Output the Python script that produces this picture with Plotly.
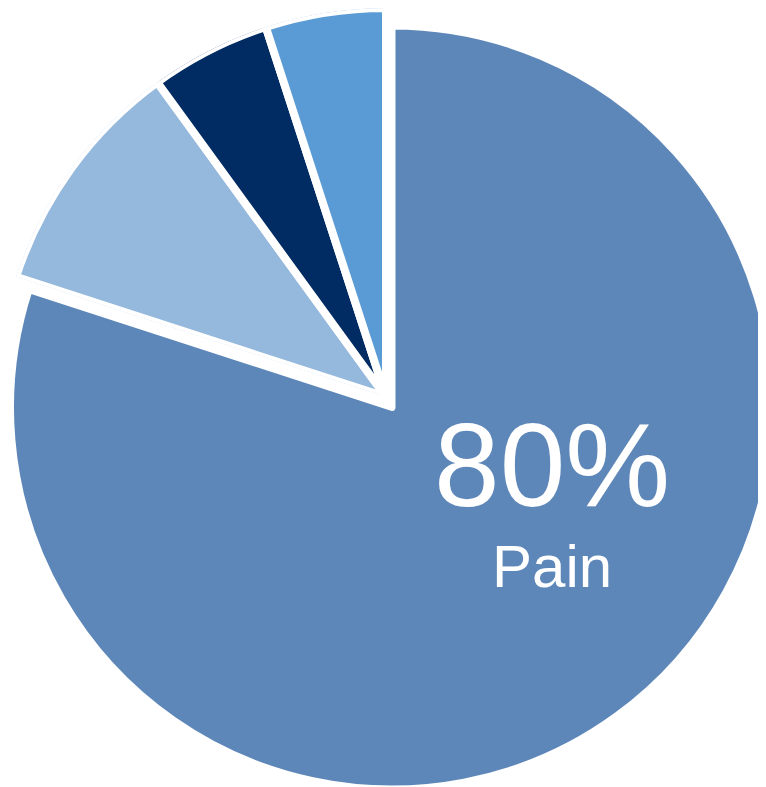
import math
import plotly.graph_objects as go

# ---- data ----
labels = ["Pain", "Other A", "Other B", "Other C"]
values = [80, 10, 5, 5]
colors = ["#5E87B9", "#95B9DC", "#002B63", "#5B9BD5"]

# ---- geometry / style (figure pixels, from top-left) ----
W, H = 766, 787
BIG_C = (384.0, 399.5)     # centre of the big (main) slice
BIG_R = 381.5
SMALL_C = (378.0, 389.0)   # common centre of the small slices
SMALL_R = 389.0
LINE_W = 7
SMALL_LINE_W = 8

total = float(sum(values))
n = len(values)

# --- big slice: a pie whose other slices are transparent ---
fig = go.Figure()
fig.add_trace(go.Pie(
    values=values,
    labels=labels,
    sort=False,
    direction="clockwise",
    rotation=0,
    marker=dict(
        colors=[colors[0]] + ["rgba(0,0,0,0)"] * (n - 1),
        line=dict(color="white", width=[LINE_W] + [0] * (n - 1)),
    ),
    textinfo="none",
    hoverinfo="label+percent",
    showlegend=False,
    domain=dict(
        x=[(BIG_C[0] - BIG_R) / W, (BIG_C[0] + BIG_R) / W],
        y=[1 - (BIG_C[1] + BIG_R) / H, 1 - (BIG_C[1] - BIG_R) / H],
    ),
))

# --- small slices: wedges on a polar sector sharing one centre ---
angles = [v / total * 360.0 for v in values]
starts = [sum(angles[:i]) for i in range(n)]
mids = [starts[i] + angles[i] / 2.0 for i in range(1, n)]
widths = angles[1:]
fig.add_trace(go.Barpolar(
    r=[1.0] * (n - 1),
    theta=mids,
    width=widths,
    text=labels[1:],
    marker=dict(color=colors[1:], line=dict(color="white", width=SMALL_LINE_W)),
    hoverinfo="text",
    showlegend=False,
    subplot="polar",
))

# sector (screen angles, ccw from east) spanned by the small slices
cw0, cw1 = starts[1], 360.0
sec0 = (90.0 - cw1) % 360.0
sec1 = sec0 + (cw1 - cw0)
pts = [(0.0, 0.0)]
for a in [sec0, sec1] + [k * 90.0 for k in range(0, 9) if sec0 < k * 90.0 < sec1]:
    pts.append((math.cos(math.radians(a)), math.sin(math.radians(a))))
xmin = min(p[0] for p in pts); xmax = max(p[0] for p in pts)
ymin = min(p[1] for p in pts); ymax = max(p[1] for p in pts)
px0 = SMALL_C[0] + xmin * SMALL_R
px1 = SMALL_C[0] + xmax * SMALL_R
py_top = SMALL_C[1] - ymax * SMALL_R
py_bot = SMALL_C[1] - ymin * SMALL_R

fig.update_layout(polar=dict(
    domain=dict(x=[px0 / W, px1 / W], y=[1 - py_bot / H, 1 - py_top / H]),
    sector=[sec0, sec1],
    hole=0,
    bgcolor="rgba(0,0,0,0)",
    radialaxis=dict(visible=False, range=[0, 1]),
    angularaxis=dict(visible=False, rotation=90, direction="clockwise"),
))

# --- labels ---
pct = round(values[0] / total * 100)
fig.add_annotation(
    text=f"{pct}%", x=544 / W, y=1 - 457 / H, xref="paper", yref="paper",
    xanchor="center", yanchor="middle", showarrow=False,
    font=dict(family="Liberation Sans, Arial", size=118, color="white"),
)
fig.add_annotation(
    text=labels[0], x=544 / W, y=1 - 558 / H, xref="paper", yref="paper",
    xanchor="center", yanchor="middle", showarrow=False,
    font=dict(family="Liberation Sans, Arial", size=60, color="white"),
)

fig.update_layout(
    width=W, height=H,
    margin=dict(l=0, r=0, t=0, b=0),
    paper_bgcolor="white", plot_bgcolor="white",
    showlegend=False,
)
fig.write_html("out.html")
